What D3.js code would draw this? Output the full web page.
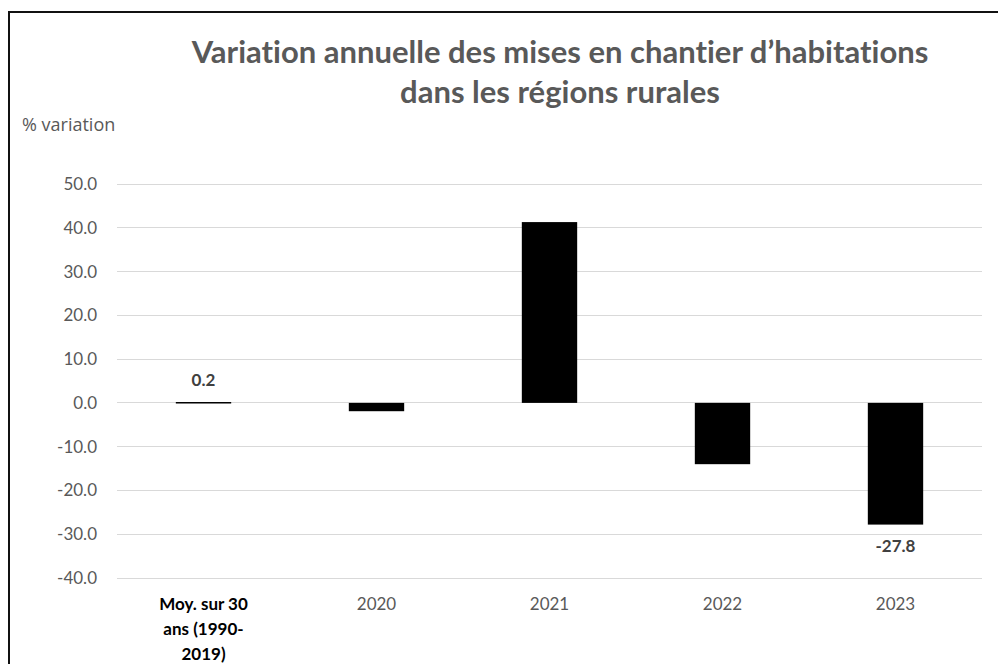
<!doctype html>
<html>
<head>
    <meta charset="utf-8">
    <style>
        body { margin: 0; background: #fff; }
        svg { display: block; }
        text { font-family: Lato, "Open Sans", sans-serif; font-variant-ligatures: none; }
        .title { font-size: 31px; font-weight: bold; fill: #595959; text-anchor: middle; }
        .axis text { font-size: 17px; fill: #595959; font-family: Lato, sans-serif; }
        .axis path { display: none; }
        .axis line { display: none; }
        .grid line { stroke: #d9d9d9; stroke-width: 1; shape-rendering: crispEdges; }
        .label { font-size: 17px; font-weight: bold; fill: #404040; text-anchor: middle; }
    </style>
    <script src="https://cdnjs.cloudflare.com/ajax/libs/d3/7.8.5/d3.min.js"></script>
</head>
<body>
<script>
    const categories = ['Moy. sur 30 ans (1990-2019)', '2020', '2021', '2022', '2023']
    const catLines = [['Moy. sur 30', 'ans (1990-', '2019)'], ['2020'], ['2021'], ['2022'], ['2023']]
    const values = [0.2, -1.9, 41.3, -14.0, -27.8]
    const labelled = [true, false, false, false, true] // only these show a value
    const yTicks = [50, 40, 30, 20, 10, 0, -10, -20, -30, -40]

    const W = 998, H = 664
    const svg = d3.select('body').append('svg').attr('width', W).attr('height', H)
    const fmt = d => d.toFixed(1) // plain hyphen, like Excel

    // frame: top + left border only, like the screenshot crop
    svg.append('line').attr('x1', 8).attr('x2', W).attr('y1', 12).attr('y2', 12)
        .attr('stroke', '#111').attr('stroke-width', 2)
    svg.append('line').attr('x1', 9).attr('x2', 9).attr('y1', 12).attr('y2', H)
        .attr('stroke', '#111').attr('stroke-width', 2)

    svg.append('text').attr('class', 'title').attr('x', 560).attr('y', 63)
        .text('Variation annuelle des mises en chantier d\u2019habitations')
    svg.append('text').attr('class', 'title').attr('x', 560).attr('y', 103)
        .text('dans les régions rurales')

    svg.append('text').attr('x', 22).attr('y', 131)
        .style('font-size', '18px').style('font-family', '"Open Sans", sans-serif')
        .style('fill', '#595959').text('% variation')

    const left = 117, right = 982
    const y = d3.scaleLinear().domain([-40, 50]).range([578, 184])
    const x = d3.scaleBand().domain(categories).range([left, right]).paddingInner(0.68).paddingOuter(0.34)

    svg.append('g').attr('class', 'grid')
        .selectAll('line').data(yTicks).enter().append('line')
        .attr('x1', left).attr('x2', right)
        .attr('y1', d => y(d)).attr('y2', d => y(d))

    svg.append('g').attr('class', 'axis')
        .attr('transform', `translate(${left - 6},0)`)
        .call(d3.axisLeft(y).tickValues(yTicks).tickFormat(fmt).tickSize(0).tickPadding(14))

    svg.append('g').selectAll('rect').data(values).enter().append('rect')
        .attr('x', (d, i) => x(categories[i]))
        .attr('width', x.bandwidth())
        .attr('y', d => y(Math.max(0, d)))
        .attr('height', d => Math.max(1.5, Math.abs(y(d) - y(0))))
        .attr('fill', '#000')

    svg.append('g').selectAll('text').data(values).enter()
        .filter((d, i) => labelled[i])
        .append('text').attr('class', 'label')
        .attr('x', (d) => x(categories[values.indexOf(d)]) + x.bandwidth() / 2)
        .attr('y', d => d >= 0 ? y(d) - 16 : y(d) + 27)
        .text(fmt)

    const catG = svg.append('g').selectAll('text').data(catLines).enter().append('text')
        .attr('text-anchor', 'middle')
        .style('font-size', '17px')
        .style('font-weight', (d, i) => i === 0 ? 'bold' : 'normal')
        .style('fill', (d, i) => i === 0 ? '#000' : '#595959')
        .attr('x', (d, i) => x(categories[i]) + x.bandwidth() / 2)
        .attr('y', 610)
    catG.selectAll('tspan').data(d => d).enter().append('tspan')
        .attr('x', function () { return d3.select(this.parentNode).attr('x') })
        .attr('dy', (d, j) => j === 0 ? 0 : 25)
        .text(d => d)
</script>
</body>
</html>
